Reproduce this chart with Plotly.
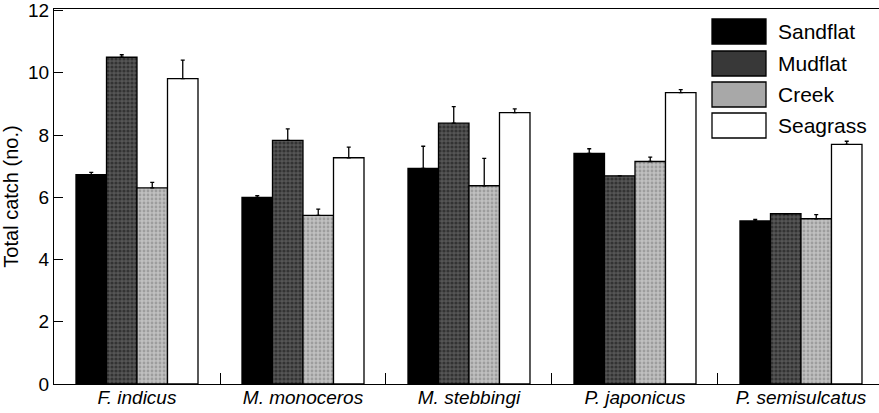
import plotly.graph_objects as go

species = ["F. indicus", "M. monoceros", "M. stebbingi", "P. japonicus", "P. semisulcatus"]
habitats = ["Sandflat", "Mudflat", "Creek", "Seagrass"]

sandflat = [6.73, 6.00, 6.93, 7.41, 5.24]
sandflat_err = [0.07, 0.05, 0.71, 0.15, 0.05]
mudflat = [10.50, 7.83, 8.38, 6.69, 5.47]
mudflat_err = [0.08, 0.37, 0.53, 0.0, 0.0]
creek = [6.30, 5.42, 6.37, 7.15, 5.31]
creek_err = [0.18, 0.20, 0.88, 0.14, 0.13]
seagrass = [9.81, 7.27, 8.72, 9.36, 7.70]
seagrass_err = [0.60, 0.34, 0.12, 0.10, 0.10]

y_ticks = [0, 2, 4, 6, 8, 10, 12]

values = [sandflat, mudflat, creek, seagrass]
errors = [sandflat_err, mudflat_err, creek_err, seagrass_err]

FONT = "Liberation Sans, Arial, Helvetica, sans-serif"

styles = [
    dict(color="#000000"),
    dict(color="#444444", pattern=dict(shape=".", bgcolor="#555555", fgcolor="#111111", size=4, solidity=0.5)),
    dict(color="#b0b0b0", pattern=dict(shape=".", bgcolor="#c0c0c0", fgcolor="#7a7a7a", size=4, solidity=0.4)),
    dict(color="#ffffff"),
]
legend_fill = ["#000000", "#383838", "#a8a8a8", "#ffffff"]

W, H = 879, 413
ML, MR, MT, MB = 54, 0, 9, 29
PW, PH = W - ML - MR, H - MT - MB

fig = go.Figure()
for name, vals, errs, st in zip(habitats, values, errors, styles):
    marker = dict(color=st["color"], line=dict(color="black", width=1.3))
    if "pattern" in st:
        marker["pattern"] = st["pattern"]
    fig.add_trace(go.Bar(
        x=species, y=vals, name=name, marker=marker,
        error_y=dict(type="data", symmetric=False, array=errs,
                     arrayminus=[0] * len(errs), color="black",
                     thickness=1.3, width=2),
        showlegend=False,
    ))

# custom legend with large swatches (pixel layout converted to paper coords)
sw_x0, sw_x1 = 712, 766
sw_y = [19, 51, 82, 113]
sw_h = 25
for i, name in enumerate(habitats):
    y0 = sw_y[i]
    fig.add_shape(type="rect", xref="paper", yref="paper",
                  x0=(sw_x0 - ML) / PW, x1=(sw_x1 - ML) / PW,
                  y0=1 - (y0 + sw_h - MT) / PH, y1=1 - (y0 - MT) / PH,
                  fillcolor=legend_fill[i], line=dict(color="black", width=1.3))
    fig.add_annotation(xref="paper", yref="paper",
                       x=(776 - ML) / PW, y=1 - (y0 + sw_h / 2 - MT) / PH,
                       text=name, showarrow=False, xanchor="left", yanchor="middle",
                       font=dict(family=FONT, size=21, color="black"))

fig.update_layout(
    width=W, height=H,
    margin=dict(l=ML, r=MR, t=MT, b=MB),
    paper_bgcolor="white", plot_bgcolor="white",
    barmode="group", bargap=0.265, bargroupgap=0,
    font=dict(family=FONT, size=19, color="black"),
    xaxis=dict(
        type="category", range=[-0.5, 4.47],
        tickmode="array", tickvals=species,
        ticktext=["<i>%s</i>" % s for s in species],
        tickson="boundaries", ticks="inside", ticklen=11, tickwidth=1.2, tickcolor="black",
        showline=True, linecolor="black", linewidth=1.3, mirror=True,
        showgrid=False, zeroline=False, automargin=False,
        ticklabelstandoff=-4,
        tickfont=dict(family=FONT, size=19, color="black"),
    ),
    yaxis=dict(
        range=[0, 12.05], tickmode="array", tickvals=y_ticks,
        ticks="inside", ticklen=9, tickwidth=1.2, tickcolor="black",
        showline=True, linecolor="black", linewidth=1.3,
        showgrid=False, zeroline=False, automargin=False,
        title=dict(text="Total catch (no.)", standoff=4,
                   font=dict(family=FONT, size=20, color="black")),
        tickfont=dict(family=FONT, size=19, color="black"),
    ),
)

fig.write_html(
    "out.html",
    config={"displayModeBar": False},
    post_script="document.body.style.margin='0';document.body.style.overflow='hidden';",
)
